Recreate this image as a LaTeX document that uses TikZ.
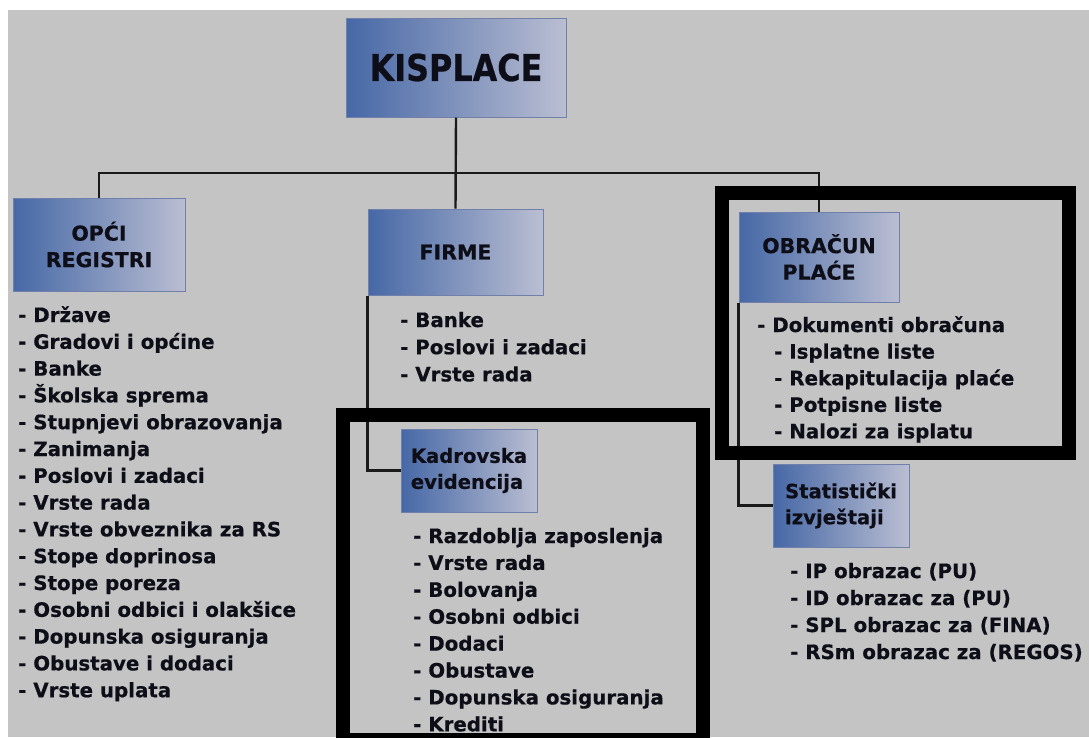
\documentclass[tikz,border=0pt]{standalone}
\usepackage{fontspec}
\usepackage{graphicx}
\setmainfont{DejaVu Sans}[BoldFeatures={FakeBold=0.6}]
\definecolor{bggrey}{RGB}{196,196,196}
\definecolor{boxL}{RGB}{70,104,166}
\definecolor{boxR}{RGB}{186,190,210}
\definecolor{boxB}{RGB}{112,128,170}
\definecolor{ink}{RGB}{14,14,24}
\definecolor{linec}{RGB}{26,26,26}
\tikzset{
  gbox/.style={draw=boxB, line width=1pt, left color=boxL, right color=boxR,
    inner sep=0pt, text=ink, align=center,
    font=\bfseries\fontsize{20.5}{26.5}\selectfont},
  sbox/.style={gbox, align=left, font=\bfseries\fontsize{19.6}{26}\selectfont,
    minimum width=136pt, minimum height=83pt},
  listitem/.style={anchor=base west, inner sep=0pt, text=ink,
    font=\bfseries\fontsize{19.8}{26.8}\selectfont},
  conn/.style={draw=linec, line width=2.4pt},
  hlframe/.style={draw=black, line width=14pt},
}
\begin{document}
\begin{tikzpicture}[x=1pt,y=-1pt]
\useasboundingbox (0,0) rectangle (1089,737);
\fill[white] (0,0) rectangle (1089,737);
\fill[bggrey] (8,10) rectangle (1089,737);

% boxes
\node[gbox, minimum width=220pt, minimum height=99pt] (kis) at (456,67.5)
  {\scalebox{0.86}[1]{\fontsize{37}{37}\selectfont KISPLACE}};
\node[gbox, minimum width=172pt, minimum height=93pt] (opci) at (99,244.5) {OPĆI\\REGISTRI};
\node[gbox, minimum width=175pt, minimum height=86pt] (firme) at (455.5,252) {FIRME};
\node[gbox, minimum width=160pt, minimum height=90pt] (obr) at (819,257) {OBRAČUN\\PLAĆE};
\node[sbox] (kadr) at (469,470.5) {Kadrovska\\evidencija};
\node[sbox] (stat) at (841,505.5) {Statistički\\izvještaji};

% connectors
\coordinate (bus) at (456,173);
\draw[conn] (kis.south) -- (firme.north);
\draw[conn] (opci.north) -- (opci.north |- bus) -- (obr.north |- bus) -- (obr.north);
\draw[conn] (firme.south west) |- (kadr.west);
\draw[conn] (obr.south west) |- (stat.west);

% lists
\foreach \t [count=\i] in {Države, Gradovi i općine, Banke, Školska sprema,
  Stupnjevi obrazovanja, Zanimanja, Poslovi i zadaci, Vrste rada,
  Vrste obveznika za RS, Stope doprinosa, Stope poreza,
  Osobni odbici i olakšice, Dopunska osiguranja, Obustave i dodaci, Vrste uplata}
  \node[listitem] (ra\i) at (18,{322+26.8*(\i-1)}) {- \t};

\foreach \t [count=\i] in {Banke, Poslovi i zadaci, Vrste rada}
  \node[listitem] (fi\i) at (400,{327+27.2*(\i-1)}) {- \t};

\foreach \t [count=\i] in {Razdoblja zaposlenja, Vrste rada, Bolovanja, Osobni odbici,
  Dodaci, Obustave, Dopunska osiguranja, Krediti}
  \node[listitem] (ka\i) at (413,{543+26.9*(\i-1)}) {- \t};

\node[listitem] (ob0) at (757,332) {- Dokumenti obračuna};
\foreach \t [count=\i] in {Isplatne liste, Rekapitulacija plaće, Potpisne liste, Nalozi za isplatu}
  \node[listitem] (ob\i) at (774,{332+26.6*\i}) {- \t};

\foreach \t [count=\i] in {IP obrazac (PU), ID obrazac za (PU), SPL obrazac za (FINA),
  RSm obrazac za (REGOS)}
  \node[listitem] (st\i) at (790,{578+27*(\i-1)}) {- \t};

% highlight frames
\draw[hlframe] (343,414.5) rectangle (703,740);
\draw[hlframe] (722,193) rectangle (1069,453);
\end{tikzpicture}
\end{document}
